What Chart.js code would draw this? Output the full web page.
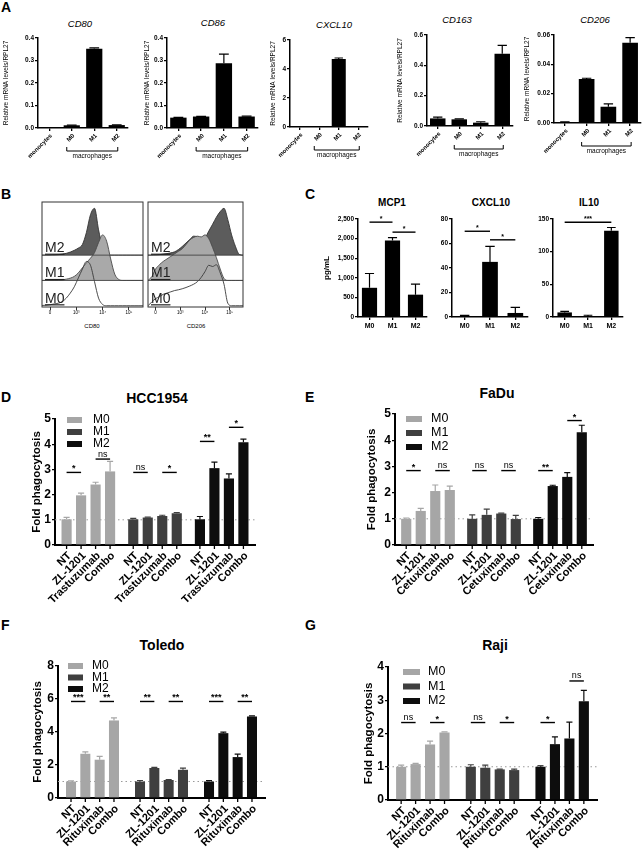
<!DOCTYPE html>
<html lang="en">
<head>
  <meta charset="UTF-8">
  <title>Macrophage polarization and phagocytosis</title>
  <script src="https://cdn.jsdelivr.net/npm/chart.js@4.4.1/dist/chart.umd.min.js"></script>
  <style>
    body { margin: 0; background: #fff; }
    #fig { position: relative; width: 643px; height: 849px; overflow: hidden; font-family: "Liberation Sans", Arial, sans-serif; color: #000; }
    #fig canvas { position: absolute; }
    .letter { position: absolute; font-weight: bold; font-size: 14px; line-height: 1; }
    .ttl { position: absolute; white-space: nowrap; transform: translate(-50%, -50%); line-height: 1; }
    .qpcr { font-style: italic; font-size: 9.5px; }
    .cyto { font-weight: bold; font-size: 10px; }
    .cell { font-weight: bold; font-size: 14px; }
    .marker { font-size: 6px; }
  </style>
</head>
<body>
<div id="fig">
  <div class="letter" style="left:1px;top:0px">A</div>
  <div class="letter" style="left:1px;top:187px">B</div>
  <div class="letter" style="left:305px;top:187px">C</div>
  <div class="letter" style="left:1px;top:390px">D</div>
  <div class="letter" style="left:305px;top:390px">E</div>
  <div class="letter" style="left:1px;top:618px">F</div>
  <div class="letter" style="left:305px;top:618px">G</div>

  <div class="ttl qpcr" style="left:80px;top:24px">CD80</div>
  <div class="ttl qpcr" style="left:213px;top:23px">CD86</div>
  <div class="ttl qpcr" style="left:334px;top:25px">CXCL10</div>
  <div class="ttl qpcr" style="left:457px;top:20px">CD163</div>
  <div class="ttl qpcr" style="left:595px;top:20px">CD206</div>

  <div class="ttl marker" style="left:92px;top:326px">CD80</div>
  <div class="ttl marker" style="left:196px;top:326px">CD206</div>

  <div class="ttl cyto" style="left:392px;top:203px">MCP1</div>
  <div class="ttl cyto" style="left:491px;top:203px">CXCL10</div>
  <div class="ttl cyto" style="left:589px;top:203px">IL10</div>

  <div class="ttl cell" style="left:157px;top:398px">HCC1954</div>
  <div class="ttl cell" style="left:497px;top:393px">FaDu</div>
  <div class="ttl cell" style="left:162px;top:645px">Toledo</div>
  <div class="ttl cell" style="left:495px;top:645px">Raji</div>

  <canvas id="cd80"></canvas>
  <canvas id="cd86"></canvas>
  <canvas id="cxcl10"></canvas>
  <canvas id="cd163"></canvas>
  <canvas id="cd206"></canvas>
  <canvas id="flowCD80"></canvas>
  <canvas id="flowCD206"></canvas>
  <canvas id="mcp1"></canvas>
  <canvas id="cxcl10Sec"></canvas>
  <canvas id="il10"></canvas>
  <canvas id="hcc"></canvas>
  <canvas id="fadu"></canvas>
  <canvas id="toledo"></canvas>
  <canvas id="raji"></canvas>
</div>

<script>
  // A: qPCR, relative mRNA levels / RPL27
  var cellTypes = ["monocytes", "M0", "M1", "M2"];
  var cd80 = [0.0005, 0.012, 0.352, 0.013];
  var cd80Err = [0, 0.001, 0.004, 0.001];
  var cd86 = [0.046, 0.051, 0.288, 0.051];
  var cd86Err = [0.001, 0.001, 0.04, 0.002];
  var cxcl10 = [0, 0, 4.69, 0];
  var cxcl10Err = [0, 0, 0.07, 0];
  var cd163 = [0.05, 0.044, 0.022, 0.477];
  var cd163Err = [0.008, 0.003, 0.006, 0.055];
  var cd206 = [0.0006, 0.030, 0.0111, 0.0548];
  var cd206Err = [0.0002, 0.0005, 0.002, 0.0034];

  // B: flow histograms, height above each lane per channel bin
  var flowBins = [0, 4, 8, 12, 16, 20, 24, 28, 32, 36, 40, 44, 48, 52, 56, 60, 64, 68, 72, 76, 80, 84, 88, 92, 96, 100];
  var cd80M0 = [0.01, 0.02, 0.04, 0.07, 0.1, 0.16, 0.3, 0.5, 0.75, 1.1, 1.45, 1.75, 1.6, 0.95, 0.3, 0.05, 0, 0, 0, 0, 0, 0, 0, 0, 0, 0];
  var cd80M1 = [0, 0, 0, 0, 0, 0.02, 0.05, 0.09, 0.16, 0.3, 0.5, 0.7, 0.88, 1.1, 1.5, 1.8, 1.55, 0.85, 0.25, 0.04, 0, 0, 0, 0, 0, 0];
  var cd80M2 = [0, 0, 0, 0.01, 0.02, 0.04, 0.07, 0.12, 0.19, 0.28, 0.42, 0.9, 1.6, 1.85, 1.0, 0.3, 0.05, 0, 0, 0, 0, 0, 0, 0, 0, 0];
  var cd206M0 = [0, 0.15, 0.28, 0.36, 0.45, 0.5, 0.55, 0.6, 0.63, 0.67, 0.72, 0.78, 0.85, 0.95, 1.12, 1.35, 1.6, 1.55, 1.62, 1.3, 0.85, 0.1, 0, 0, 0, 0];
  var cd206M1 = [0, 0.15, 0.45, 0.62, 0.75, 0.85, 0.95, 1.05, 1.15, 1.25, 1.42, 1.6, 1.7, 1.75, 1.72, 1.8, 1.65, 1.3, 0.9, 0.45, 0.08, 0, 0, 0, 0, 0];
  var cd206M2 = [0, 0, 0.01, 0.02, 0.04, 0.06, 0.09, 0.13, 0.22, 0.34, 0.48, 0.62, 0.75, 0.72, 0.62, 0.68, 0.95, 1.22, 1.5, 1.72, 1.85, 1.4, 0.8, 0.35, 0.03, 0];
  var flowTicks = [8, 34, 60, 86];
  var flowTickText = ["0", "10³", "10⁴", "10⁵"];
  var laneNames = ["M0", "M1", "M2"];

  // C: secreted cytokines, pg/mL
  var macroTypes = ["M0", "M1", "M2"];
  var mcp1 = [745, 1950, 570];
  var mcp1Err = [365, 75, 270];
  var cxcl10Sec = [0.4, 45, 3.3];
  var cxcl10SecErr = [0.9, 12.6, 4.6];
  var il10 = [7, 1.5, 132];
  var il10Err = [1.5, 1.2, 5];
  // [unused, bar a, bar b, height, label]
  var mcp1Sig = [[0, 0, 1, 2420, "*"], [0, 1, 2, 2165, "*"]];
  var cxcl10Sig = [[0, 0, 1, 70, "*"], [0, 1, 2, 63, "*"]];
  var il10Sig = [[0, 0, 2, 145, "***"]];

  // D-G: fold phagocytosis
  var groups = ["M0", "M1", "M2"];
  var groupColors = ["#a6a6a6", "#3f3f3f", "#0d0d0d"];

  var hccTreat = ["NT", "ZL-1201", "Trastuzumab", "Combo"];
  var hccM0 = [1.02, 1.97, 2.40, 2.92];
  var hccM0Err = [0.08, 0.09, 0.09, 0.40];
  var hccM1 = [1.02, 1.09, 1.15, 1.26];
  var hccM1Err = [0.04, 0.02, 0.03, 0.03];
  var hccM2 = [1.02, 3.05, 2.64, 4.08];
  var hccM2Err = [0.11, 0.24, 0.18, 0.12];

  var fadTreat = ["NT", "ZL-1201", "Cetuximab", "Combo"];
  var fadM0 = [1.0, 1.30, 2.06, 2.10];
  var fadM0Err = [0.03, 0.1, 0.23, 0.15];
  var fadM1 = [1.0, 1.15, 1.20, 0.99];
  var fadM1Err = [0.15, 0.22, 0.02, 0.14];
  var fadM2 = [1.0, 2.25, 2.60, 4.30];
  var fadM2Err = [0.05, 0.03, 0.16, 0.27];

  var tolTreat = ["NT", "ZL-1201", "Rituximab", "Combo"];
  var tolM0 = [1.0, 2.68, 2.32, 4.70];
  var tolM0Err = [0.04, 0.12, 0.2, 0.16];
  var tolM1 = [1.0, 1.82, 1.09, 1.71];
  var tolM1Err = [0.06, 0.04, 0.02, 0.1];
  var tolM2 = [1.0, 3.93, 2.48, 4.94];
  var tolM2Err = [0.06, 0.06, 0.18, 0.04];

  var rajTreat = ["NT", "ZL-1201", "Rituximab", "Combo"];
  var rajM0 = [1.0, 1.08, 1.67, 2.03];
  var rajM0Err = [0.05, 0.02, 0.1, 0.02];
  var rajM1 = [1.0, 0.97, 0.92, 0.90];
  var rajM1Err = [0.06, 0.08, 0.01, 0.03];
  var rajM2 = [1.0, 1.68, 1.85, 2.97];
  var rajM2Err = [0.03, 0.22, 0.49, 0.33];

  // [group, bar a, bar b, height, label]
  var hccSig = [[0, 0, 1, 2.88, "*"], [0, 2, 3, 3.41, "ns"], [1, 0, 1, 2.88, "ns"], [1, 2, 3, 2.88, "*"], [2, 0, 1, 4.11, "**"], [2, 2, 3, 4.67, "*"]];
  var fadSig = [[0, 0, 1, 2.84, "*"], [0, 2, 3, 2.84, "ns"], [1, 0, 1, 2.84, "ns"], [1, 2, 3, 2.84, "ns"], [2, 0, 1, 2.84, "**"], [2, 2, 3, 4.75, "*"]];
  var tolSig = [[0, 0, 1, 5.85, "***"], [0, 2, 3, 5.85, "**"], [1, 0, 1, 5.85, "**"], [1, 2, 3, 5.85, "**"], [2, 0, 1, 5.85, "***"], [2, 2, 3, 5.85, "**"]];
  var rajSig = [[0, 0, 1, 2.33, "ns"], [0, 2, 3, 2.33, "*"], [1, 0, 1, 2.33, "ns"], [1, 2, 3, 2.33, "*"], [2, 0, 1, 2.33, "*"], [2, 2, 3, 3.58, "ns"]];

  var FONT = "'Liberation Sans', Arial, sans-serif";
  Chart.defaults.font.family = FONT;
  Chart.defaults.color = "#000";
  Chart.defaults.animation = false;
  Chart.defaults.responsive = false;
  Chart.defaults.plugins.legend.display = false;
  Chart.defaults.plugins.tooltip.enabled = false;

  // per-canvas extras: error bars, significance lines, labels
  var extras = {};

  Chart.register({
    id: "figExtras",
    beforeDatasetsDraw: function (chart) {
      var ex = extras[chart.canvas.id];
      if (!ex || ex.refLine == null) return;
      var ctx = chart.ctx, a = chart.chartArea;
      var yy = chart.scales.y.getPixelForValue(ex.refLine);
      ctx.save();
      ctx.strokeStyle = "#9a9a9a";
      ctx.lineWidth = 1;
      ctx.setLineDash([1.5, 3]);
      ctx.beginPath();
      ctx.moveTo(a.left, yy);
      ctx.lineTo(a.right, yy);
      ctx.stroke();
      ctx.restore();
    },
    afterDatasetsDraw: function (chart) {
      var ex = extras[chart.canvas.id];
      if (!ex) return;
      var ctx = chart.ctx, a = chart.chartArea, ys = chart.scales.y;
      ctx.save();

      // upper error bars
      chart.data.datasets.forEach(function (ds, i) {
        if (!ds.errors) return;
        chart.getDatasetMeta(i).data.forEach(function (bar, j) {
          var e = ds.errors[j];
          if (!e) return;
          var top = ys.getPixelForValue(ds.data[j] + e);
          var col = Array.isArray(ds.backgroundColor) ? ds.backgroundColor[j] : ds.backgroundColor;
          var cap = bar.width * 0.3;
          ctx.strokeStyle = col;
          ctx.lineWidth = 1.2;
          ctx.beginPath();
          ctx.moveTo(bar.x, bar.y);
          ctx.lineTo(bar.x, top);
          ctx.moveTo(bar.x - cap, top);
          ctx.lineTo(bar.x + cap, top);
          ctx.stroke();
        });
      });

      // significance lines
      (ex.sig || []).forEach(function (s) {
        var x1, x2;
        if (ex.grouped) {
          x1 = chart.getDatasetMeta(s[1]).data[s[0]].x;
          x2 = chart.getDatasetMeta(s[2]).data[s[0]].x;
        } else {
          x1 = chart.getDatasetMeta(0).data[s[1]].x;
          x2 = chart.getDatasetMeta(0).data[s[2]].x;
        }
        var yy = ys.getPixelForValue(s[3]);
        ctx.strokeStyle = "#000";
        ctx.lineWidth = 1.4;
        ctx.beginPath();
        ctx.moveTo(x1, yy);
        ctx.lineTo(x2, yy);
        ctx.stroke();
        ctx.fillStyle = "#000";
        ctx.textAlign = "center";
        ctx.textBaseline = "alphabetic";
        var ns = s[4] === "ns";
        ctx.font = (ns ? "" : "bold ") + ex.sigSize + "px " + FONT;
        ctx.fillText(s[4], (x1 + x2) / 2, yy - (ns ? 2.5 : 1));
      });

      // legend for grouped charts
      if (ex.legend) {
        var L = ex.legend;
        ctx.font = L.size + "px " + FONT;
        ctx.textAlign = "left";
        ctx.textBaseline = "middle";
        groups.forEach(function (g, k) {
          var yy = a.top + L.dy + k * L.gap;
          ctx.fillStyle = groupColors[k];
          ctx.fillRect(a.left + L.dx, yy - 3, L.sw, 6);
          ctx.fillStyle = "#000";
          ctx.fillText(g, a.left + L.tx, yy);
        });
      }

      // per-bar ticks and rotated treatment labels
      if (ex.grouped) {
        ctx.font = "bold 11px " + FONT;
        ctx.fillStyle = "#000";
        ctx.strokeStyle = "#000";
        ctx.lineWidth = 1.3;
        ctx.textAlign = "right";
        ctx.textBaseline = "middle";
        chart.data.datasets.forEach(function (ds, i) {
          chart.getDatasetMeta(i).data.forEach(function (bar) {
            ctx.beginPath();
            ctx.moveTo(bar.x, a.bottom);
            ctx.lineTo(bar.x, a.bottom + 4);
            ctx.stroke();
            ctx.save();
            ctx.translate(bar.x + 3, a.bottom + 9);
            ctx.rotate(-Math.PI / 4);
            ctx.fillText(ds.label, 0, 0);
            ctx.restore();
          });
        });
      }

      // category labels for single-series charts
      if (ex.catLabels) {
        var bars = chart.getDatasetMeta(0).data;
        ctx.fillStyle = "#000";
        ctx.font = "bold " + ex.catSize + "px " + FONT;
        ex.catLabels.forEach(function (t, j) {
          if (ex.rotate) {
            ctx.save();
            ctx.translate(bars[j].x + 2, a.bottom + 7);
            ctx.rotate(-Math.PI / 4);
            ctx.textAlign = "right";
            ctx.textBaseline = "middle";
            ctx.fillText(t, 0, 0);
            ctx.restore();
          } else {
            ctx.textAlign = "center";
            ctx.textBaseline = "top";
            ctx.fillText(t, bars[j].x, a.bottom + 6);
          }
        });
      }

      // macrophages bracket
      if (ex.bracket) {
        var b = chart.getDatasetMeta(0).data;
        var xl = b[1].x - 5, xr = b[3].x + 1, yb = a.bottom + 23;
        ctx.strokeStyle = "#000";
        ctx.lineWidth = 1;
        ctx.beginPath();
        ctx.moveTo(xl, yb - 4);
        ctx.lineTo(xl, yb);
        ctx.lineTo(xr, yb);
        ctx.lineTo(xr, yb - 4);
        ctx.stroke();
        ctx.fillStyle = "#000";
        ctx.font = "6.5px " + FONT;
        ctx.textAlign = "center";
        ctx.textBaseline = "top";
        ctx.fillText("macrophages", (xl + xr) / 2, yb + 1.5);
      }

      // flow histogram box, lane lines, lane names
      if (ex.flow) {
        ctx.strokeStyle = "#444";
        ctx.lineWidth = 0.9;
        [1, 2].forEach(function (lane) {
          var yy = ys.getPixelForValue(lane);
          ctx.beginPath();
          ctx.moveTo(a.left, yy);
          ctx.lineTo(a.right, yy);
          ctx.stroke();
        });
        ctx.strokeStyle = "#333";
        ctx.lineWidth = 1;
        ctx.strokeRect(a.left, a.top, a.right - a.left, a.bottom - a.top);
        ctx.font = "14px " + FONT;
        ctx.fillStyle = "#222";
        ctx.textAlign = "left";
        ctx.textBaseline = "alphabetic";
        laneNames.forEach(function (n, k) {
          var yy = ys.getPixelForValue(k) - 3;
          var w = ctx.measureText(n).width;
          ctx.fillText(n, a.left + 3, yy);
          ctx.fillRect(a.left + 3, yy + 1.5, w, 1.2);
        });
      }
      ctx.restore();
    }
  });

  // size and place a canvas so that its chart area lands on `area`
  function place(id, area, yW, xH, m) {
    var c = document.getElementById(id);
    var w = area[2] - area[0] + yW + m[0] + m[2];
    var h = area[3] - area[1] + xH + m[1] + m[3];
    c.width = w;
    c.height = h;
    c.style.left = (area[0] - yW - m[0]) + "px";
    c.style.top = (area[1] - m[1]) + "px";
    c.style.width = w + "px";
    c.style.height = h + "px";
    return { left: m[0], top: m[1], right: m[2], bottom: m[3] };
  }

  function yAxis(min, max, step, yW, size, fmt, title, titleFont) {
    var ax = {
      min: min, max: max,
      ticks: { stepSize: step, font: { size: size, weight: "bold" }, padding: 1 },
      grid: { drawOnChartArea: false, tickLength: 3, color: "#000", lineWidth: 1.3 },
      border: { color: "#000", width: 1.5 },
      title: { display: !!title, text: title || "", font: titleFont, padding: 0 },
      afterFit: function (s) { s.width = yW; }
    };
    if (fmt) ax.ticks.callback = fmt;
    return ax;
  }

  function singleBar(id, area, yW, labels, values, errs, yopt, ex) {
    var xH = 4;
    var pad = place(id, area, yW, xH, ex.margin);
    extras[id] = ex;
    new Chart(id, {
      type: "bar",
      data: {
        labels: labels,
        datasets: [{ data: values, errors: errs, backgroundColor: "#000", barPercentage: ex.barPct, categoryPercentage: 1 }]
      },
      options: {
        layout: { padding: pad },
        scales: {
          x: {
            offset: true,
            ticks: { display: false },
            grid: { offset: false, drawOnChartArea: false, tickLength: 3, color: "#000", lineWidth: 1.3 },
            border: { color: "#000", width: 1.5 },
            afterFit: function (s) { s.height = xH; }
          },
          y: yopt
        }
      }
    });
  }

  // A
  var qTitle = "Relative mRNA levels/RPL27";
  var qFont = { size: 6.5 };
  function qpcr(id, area, yW, values, errs, max, step, dec, margin) {
    singleBar(id, area, yW, cellTypes, values, errs,
      yAxis(0, max, step, yW, 6.5, function (v) { return v.toFixed(dec); }, qTitle, qFont),
      { margin: margin, barPct: 0.72, catLabels: cellTypes, catSize: 6, rotate: true, bracket: true });
  }
  qpcr("cd80", [38, 38, 128, 128], 36, cd80, cd80Err, 0.4, 0.1, 1, [2, 8, 3, 38]);
  qpcr("cd86", [167, 38, 258, 128], 24, cd86, cd86Err, 0.4, 0.1, 1, [0, 8, 3, 38]);
  qpcr("cxcl10", [290, 40, 368, 127], 21, cxcl10, cxcl10Err, 6, 2, 0, [0, 8, 3, 38]);
  qpcr("cd163", [427, 35, 513, 126], 31, cd163, cd163Err, 0.6, 0.2, 1, [0, 8, 3, 38]);
  qpcr("cd206", [554, 35, 641, 123], 31, cd206, cd206Err, 0.06, 0.02, 2, [0, 8, 2, 38]);

  // B
  function histSet(h, lane, fill, line) {
    return {
      data: flowBins.map(function (x, i) { return { x: x, y: lane + h[i] }; }),
      fill: fill ? { value: lane } : false,
      backgroundColor: fill || "rgba(0,0,0,0)",
      borderColor: line,
      borderWidth: 0.9,
      pointRadius: 0,
      cubicInterpolationMode: "monotone"
    };
  }
  function flowChart(id, area, m0, m1, m2) {
    var xH = 10;
    var pad = place(id, area, 0, xH, [1, 2, 1, 2]);
    extras[id] = { flow: true };
    new Chart(id, {
      type: "line",
      data: {
        datasets: [histSet(m0, 0, null, "#3a3a3a"), histSet(m1, 1, "#a9a9a9", "#4a4a4a"), histSet(m2, 2, "#5c5c5c", "#333")]
      },
      options: {
        layout: { padding: pad },
        scales: {
          x: {
            type: "linear", min: 0, max: 100,
            afterBuildTicks: function (s) { s.ticks = flowTicks.map(function (v) { return { value: v }; }); },
            ticks: { font: { size: 4.5 }, padding: 0, maxRotation: 0, callback: function (v) { return flowTickText[flowTicks.indexOf(v)]; } },
            grid: { drawOnChartArea: false, tickLength: 3, color: "#333", lineWidth: 1 },
            border: { display: false },
            afterFit: function (s) { s.height = xH; }
          },
          y: { display: false, min: -0.05, max: 4.1 }
        }
      }
    });
  }
  flowChart("flowCD80", [42, 202, 143, 307], cd80M0, cd80M1, cd80M2);
  flowChart("flowCD206", [148, 202, 243, 307], cd206M0, cd206M1, cd206M2);

  // C
  var cMargin = [0, 10, 3, 16];
  singleBar("mcp1", [358, 219, 427, 317], 36, macroTypes, mcp1, mcp1Err,
    yAxis(0, 2500, 500, 36, 6.5, null, "pg/mL", { size: 8, weight: "bold" }),
    { margin: cMargin, barPct: 0.66, catLabels: macroTypes, catSize: 7, sig: mcp1Sig, sigSize: 7 });
  singleBar("cxcl10Sec", [452, 219, 528, 317], 26, macroTypes, cxcl10Sec, cxcl10SecErr,
    yAxis(0, 80, 20, 26, 6.5),
    { margin: cMargin, barPct: 0.62, catLabels: macroTypes, catSize: 7, sig: cxcl10Sig, sigSize: 7 });
  singleBar("il10", [553, 219, 623, 317], 26, macroTypes, il10, il10Err,
    yAxis(0, 150, 50, 26, 6.5),
    { margin: cMargin, barPct: 0.62, catLabels: macroTypes, catSize: 7, sig: il10Sig, sigSize: 7 });

  // D-G
  var foldTitle = "Fold phagocytosis";
  function phago(id, area, yW, yMax, yStep, treat, m0, m1, m2, e0, e1, e2, sig, catPct, legend, margin) {
    var xH = 4;
    var pad = place(id, area, yW, xH, margin);
    extras[id] = { grouped: true, sig: sig, sigSize: 9, legend: legend, refLine: 1 };
    new Chart(id, {
      type: "bar",
      data: {
        labels: groups,
        datasets: treat.map(function (t, i) {
          return {
            label: t,
            data: [m0[i], m1[i], m2[i]],
            errors: [e0[i], e1[i], e2[i]],
            backgroundColor: groupColors,
            barPercentage: 0.7,
            categoryPercentage: catPct
          };
        })
      },
      options: {
        layout: { padding: pad },
        scales: {
          x: {
            ticks: { display: false },
            grid: { display: false },
            border: { color: "#000", width: 2 },
            afterFit: function (s) { s.height = xH; }
          },
          y: Object.assign(yAxis(0, yMax, yStep, yW, 12, null, foldTitle, { size: 11.5, weight: "bold" }), {
            border: { color: "#000", width: 2 }
          })
        }
      }
    });
  }
  phago("hcc", [55, 419, 255, 545], 25, 5, 1, hccTreat, hccM0, hccM1, hccM2, hccM0Err, hccM1Err, hccM2Err, hccSig, 0.87,
    { dx: 12, tx: 38, dy: 1, gap: 12, sw: 15, size: 12 }, [30, 10, 8, 56]);
  phago("fadu", [395, 414, 593, 545], 30, 5, 1, fadTreat, fadM0, fadM1, fadM2, fadM0Err, fadM1Err, fadM2Err, fadSig, 0.88,
    { dx: 11, tx: 36, dy: 5, gap: 14, sw: 16, size: 12.5 }, [29, 10, 8, 56]);
  phago("toledo", [58, 666, 265, 798], 27, 8, 2, tolTreat, tolM0, tolM1, tolM2, tolM0Err, tolM1Err, tolM2Err, tolSig, 0.83,
    { dx: 10, tx: 34, dy: 0, gap: 11.5, sw: 15, size: 12 }, [31, 10, 8, 47]);
  phago("raji", [388, 667, 597, 800], 26, 4, 1, rajTreat, rajM0, rajM1, rajM2, rajM0Err, rajM1Err, rajM2Err, rajSig, 0.83,
    { dx: 15, tx: 40, dy: 5, gap: 14.5, sw: 17, size: 12.5 }, [29, 10, 8, 45]);
</script>
</body>
</html>
